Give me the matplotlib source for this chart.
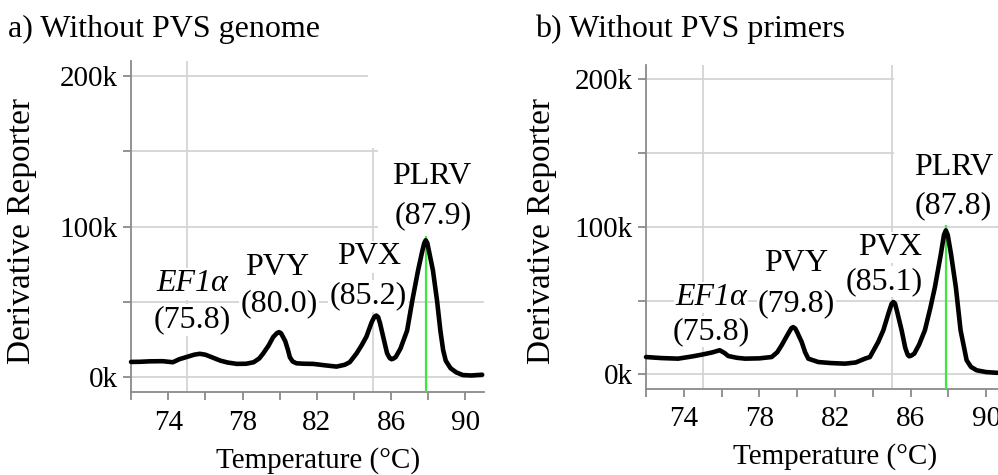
import matplotlib
matplotlib.use("Agg")
import matplotlib.pyplot as plt
from matplotlib.patches import Rectangle
from matplotlib.ticker import FuncFormatter

plt.rcParams["font.family"] = ["Liberation Serif", "DejaVu Serif"]

# melt curve, panel a (temperature in C, derivative reporter in thousands)
temp_a = [72.0, 72.5, 73.0, 73.7, 74.25, 74.6, 75.0, 75.4, 75.7, 76.0, 76.25, 76.8,
          77.2, 77.7, 78.2, 78.6, 78.9, 79.1, 79.4, 79.65, 79.85, 79.96, 80.07, 80.15,
          80.3, 80.45, 80.55, 80.7, 80.9, 81.3, 81.8, 82.4, 83.06, 83.5, 83.77, 84.13,
          84.4, 84.67, 84.95, 85.1, 85.2, 85.3, 85.4, 85.57, 85.78, 85.92, 86.02,
          86.12, 86.25, 86.5, 86.86, 87.14, 87.45, 87.68, 87.78, 87.86, 87.95, 88.05,
          88.25, 88.47, 88.65, 88.8, 88.94, 89.2, 89.5, 89.85, 90.3, 90.9]
deriv_a = [10.2, 10.3, 10.6, 10.7, 10.0, 12.0, 13.5, 15.0, 15.6, 15.0, 13.8, 11.1,
           9.8, 8.9, 9.0, 10.0, 12.5, 15.6, 21.0, 26.7, 29.3, 30.0, 29.3, 27.5,
           24.0, 18.0, 13.3, 10.5, 9.3, 9.0, 8.9, 8.0, 7.1, 8.3, 10.0, 15.7,
           21.0, 27.0, 36.5, 40.2, 41.0, 40.0, 36.0, 27.0, 16.0, 12.8, 12.0,
           12.4, 13.5, 19.0, 31.0, 51.0, 71.0, 84.0, 89.0, 91.0, 89.0, 83.0,
           71.0, 51.0, 31.0, 18.0, 11.0, 6.0, 3.3, 1.5, 1.2, 1.7]

# panel b
temp_b = [72.0, 72.8, 73.7, 74.4, 74.95, 75.5, 75.9, 76.15, 76.35, 76.8, 77.24, 78.0,
          78.65, 78.95, 79.18, 79.5, 79.69, 79.79, 79.9, 80.0, 80.24, 80.42, 80.59,
          81.12, 81.8, 82.53, 83.1, 83.59, 83.85, 84.29, 84.56, 84.85, 85.0, 85.09,
          85.18, 85.3, 85.53, 85.72, 85.85, 85.93, 86.03, 86.2, 86.45, 86.76, 87.05,
          87.29, 87.61, 87.77, 87.87, 87.97, 88.14, 88.4, 88.65, 88.97, 89.2, 89.5,
          90.0, 90.56, 91.0]
deriv_b = [11.7, 11.0, 10.6, 12.0, 13.3, 14.8, 16.3, 14.5, 12.4, 11.2, 10.6, 10.8,
           11.7, 15.0, 19.7, 27.0, 31.2, 32.0, 31.0, 28.5, 21.9, 15.0, 10.6,
           8.3, 7.6, 7.2, 8.0, 10.6, 11.7, 21.9, 29.8, 42.0, 47.8, 49.0,
           48.0, 42.0, 29.8, 18.0, 13.2, 12.2, 12.6, 14.0, 20.0, 29.8, 45.0,
           59.0, 81.8, 94.5, 97.6, 94.5, 81.8, 59.0, 29.8, 9.5, 5.0, 2.7,
           1.5, 1.0, 1.0]

titles = ["a) Without PVS genome", "b) Without PVS primers"]
targets = ["EF1α", "PVY", "PVX", "PLRV"]
tm_a = ["75.8", "80.0", "85.2", "87.9"]
tm_b = ["75.8", "79.8", "85.1", "87.8"]
marker_tm = [87.86, 87.87]
marker_top = [94, 101]

# label anchor points (temperature, thousands): name line, value line
name_pos_a = [(75.28, 62), (79.85, 73), (84.8, 80), (88.18, 133)]
val_pos_a = [(75.28, 38), (79.97, 49), (84.76, 54), (88.24, 107)]
name_pos_b = [(75.43, 52), (79.92, 75), (84.9, 86), (88.26, 140)]
val_pos_b = [(75.43, 29), (79.97, 48), (84.6, 63), (88.26, 114)]

panels = [
    dict(temp=temp_a, deriv=deriv_a, tm=tm_a, names=name_pos_a, vals=val_pos_a,
         rect=[0.1313, 0.174, 0.3537, 0.6975],
         masks=[(84.75, 152), (85.3, 93)],
         title_x=8, ylab_x=22, xlab_x=318, xlab_y=461),
    dict(temp=temp_b, deriv=deriv_b, tm=tm_b, names=name_pos_b, vals=val_pos_b,
         rect=[0.6473, 0.181, 0.3597, 0.683],
         masks=[(85.15, 101)],
         title_x=535, ylab_x=542, xlab_x=835, xlab_y=457),
]

W, H = 998, 475
fig = plt.figure(figsize=(W / 100, H / 100), dpi=100)
grey = "#8a8a8a"

for i, p in enumerate(panels):
    ax = fig.add_axes(p["rect"])
    ax.set_xlim(72, 91)
    ax.set_ylim(-10, 210)
    ax.set_axisbelow(True)

    for s in ["top", "right"]:
        ax.spines[s].set_visible(False)
    for s in ["left", "bottom"]:
        ax.spines[s].set_color(grey)
        ax.spines[s].set_linewidth(1.3)

    ax.set_xticks(range(72, 91, 2))
    ax.xaxis.set_major_formatter(FuncFormatter(lambda v, pos: "" if int(v) % 4 == 0 else f"{int(v)}"))
    ax.set_xticks([75, 80, 85, 90], minor=True)
    ax.set_yticks(range(0, 201, 50))
    ax.yaxis.set_major_formatter(FuncFormatter(lambda v, pos: f"{int(v)}k" if int(v) % 100 == 0 else ""))
    ax.tick_params(which="major", direction="out", length=5.5, width=1.3, color=grey,
                   labelsize=21, pad=4)
    ax.tick_params(axis="x", which="major", pad=7)
    ax.tick_params(which="minor", length=0)
    ax.grid(True, axis="y", which="major", color="#d4d4d4", lw=1.3)
    ax.grid(True, axis="x", which="minor", color="#d4d4d4", lw=1.3)

    for x0, y0 in p["masks"]:
        ax.add_patch(Rectangle((x0, y0), 91 - x0, 215 - y0, facecolor="white",
                               edgecolor="none", zorder=1))

    ax.vlines(marker_tm[i], -10, marker_top[i], color="#3ee63e", lw=1.6, zorder=3)
    ax.plot(p["temp"], p["deriv"], color="black", lw=3.3, zorder=4,
            solid_joinstyle="round", solid_capstyle="round", clip_on=False)

    box = dict(facecolor="white", edgecolor="none", pad=1)
    for name, (nx, ny), val, (vx, vy) in zip(targets, p["names"], p["tm"], p["vals"]):
        style = "italic" if name == "EF1α" else "normal"
        ax.text(nx, ny, name, fontsize=23, style=style, ha="center", va="center",
                bbox=box, zorder=2)
        ax.text(vx, vy, f"({val})", fontsize=23, ha="center", va="center",
                bbox=box, zorder=2)

    fig.text(p["title_x"] / W, 1 - 37 / H, titles[i], fontsize=23, ha="left",
             va="baseline")
    fig.text(p["ylab_x"] / W, 1 - 231 / H, "Derivative Reporter", fontsize=24,
             rotation=90, ha="center", va="center")
    fig.text(p["xlab_x"] / W, 1 - p["xlab_y"] / H, "Temperature (°C)", fontsize=21,
             ha="center", va="center")

fig.savefig("out.png", dpi=100)
